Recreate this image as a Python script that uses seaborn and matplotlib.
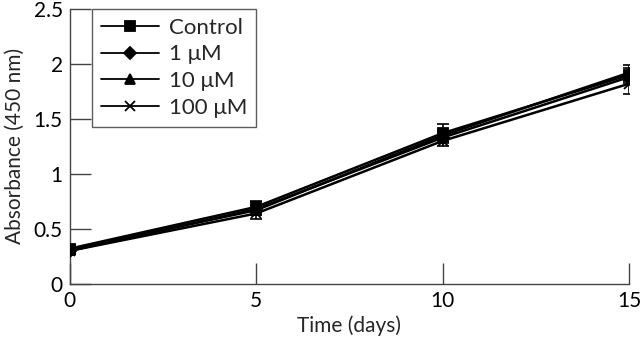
import numpy as np
import pandas as pd
import matplotlib
matplotlib.use('Agg')
import matplotlib.pyplot as plt
import seaborn as sns

days = [0, 5, 10, 15]
groups = ['Control', '1 \u03bcM', '10 \u03bcM', '100 \u03bcM']
control = [0.32, 0.70, 1.37, 1.90]
um1 = [0.30, 0.68, 1.33, 1.88]
um10 = [0.31, 0.67, 1.35, 1.92]
um100 = [0.30, 0.64, 1.30, 1.82]
err_control = [0.03, 0.05, 0.08, 0.06]
err_um1 = [0.03, 0.04, 0.05, 0.05]
err_um10 = [0.03, 0.04, 0.05, 0.07]
err_um100 = [0.03, 0.05, 0.05, 0.09]

sns.set_theme(style='ticks')
plt.rcParams['font.family'] = ['Lato', 'DejaVu Sans']

values = [control, um1, um10, um100]
errs = [err_control, err_um1, err_um10, err_um100]
rows = []
for g, v, e in zip(groups, values, errs):
    for d, y, s in zip(days, v, e):
        rows.append({'Time': d, 'Absorbance': y, 'err': s, 'Group': g})
df = pd.DataFrame(rows)

fig = plt.figure(figsize=(6.4, 3.42), dpi=100)
ax = fig.add_axes([0.109, 0.170, 0.874, 0.804])

# error bars first so lines sit on top
for g in groups:
    sub = df[df['Group'] == g]
    ax.errorbar(sub['Time'], sub['Absorbance'], yerr=sub['err'], fmt='none',
                ecolor='black', elinewidth=1.2, capsize=4, capthick=1.2, zorder=2)

markers = ['s', 'D', '^', 'x']
sizes = [7, 6, 7, 7]
for g, m, ms in zip(groups, markers, sizes):
    sub = df[df['Group'] == g]
    sns.lineplot(data=sub, x='Time', y='Absorbance', color='black', marker=m,
                 markersize=ms, markeredgewidth=1.3, markeredgecolor='black',
                 linewidth=1.8, label=g, ax=ax, zorder=3)

ax.set_xlim(0, 15)
ax.set_ylim(0, 2.5)
ax.set_xticks([0, 5, 10, 15])
ax.set_yticks([0, 0.5, 1, 1.5, 2, 2.5])
ax.set_yticklabels(['0', '0.5', '1', '1.5', '2', '2.5'])
ax.tick_params(direction='in', length=15, width=1, colors='#444444', labelcolor='black',
               labelsize=15, pad=5)
for s in ['top', 'right']:
    ax.spines[s].set_visible(False)
for s in ['left', 'bottom']:
    ax.spines[s].set_color('#444444')
    ax.spines[s].set_linewidth(1)
ax.set_xlabel('Time (days)', fontsize=15, labelpad=3)
ax.set_ylabel('Absorbance (450 nm)', fontsize=15, labelpad=6)

leg = ax.legend(loc='upper left', bbox_to_anchor=(0.04, 1.0), frameon=True, fancybox=False,
                fontsize=16, handlelength=2.6, labelspacing=0.3, borderpad=0.4,
                handletextpad=0.45, borderaxespad=0.0)
leg.get_frame().set_edgecolor('#333333')
leg.get_frame().set_linewidth(1)
for line in leg.get_lines():
    line.set_linewidth(1.3)

fig.savefig('out.png', dpi=100)
